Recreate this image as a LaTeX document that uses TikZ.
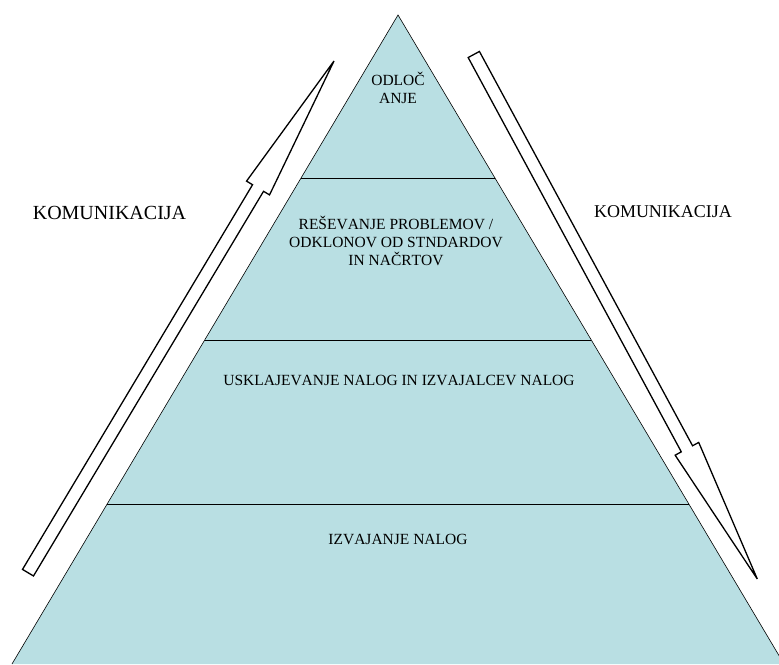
\documentclass[tikz,border=0pt]{standalone}
\usepackage{fontspec}
\setmainfont[Kerning=Off]{Liberation Serif}
\usetikzlibrary{calc}
\definecolor{piramida}{RGB}{185,223,227}
\tikzset{
  nivo/.style={font=\fontsize{15.5}{18}\selectfont, align=center},
  komlabel/.style={font=\fontsize{#1}{24}\selectfont},
  delilna/.style={line width=1pt},
  puscica/.style={draw, line width=1.3pt, fill=white, line join=miter},
}
\newcommand{\komarrow}[2]{%
  \coordinate (h) at ($(#2)!148pt!(#1)$);
  \draw[puscica] ($(#1)!6.4pt!-90:(#2)$) -- ($(h)!6.4pt!-90:(#2)$)
    -- ($(h)!13.4pt!-90:(#2)$) -- (#2) -- ($(h)!13.4pt!90:(#2)$)
    -- ($(h)!6.4pt!90:(#2)$) -- ($(#1)!6.4pt!90:(#2)$) -- cycle;
}
\begin{document}
\begin{tikzpicture}[x=1pt,y=1pt]
    \useasboundingbox (0,0) rectangle (779,664);
    \clip (0,0) rectangle (779,664);
    \coordinate (vrh) at (398,649);
    \coordinate (levo) at (12,0);
    \coordinate (desno) at (784,0);
    \fill[piramida] (vrh) -- (levo) -- (desno) -- cycle;
    \draw[line width=0.6pt] (levo) -- (vrh) -- (desno);
    \foreach \t in {0.2512,0.5008,0.755}
    \draw[delilna] ($(vrh)!\t!(levo)$) -- ($(vrh)!\t!(desno)$);
    \node[nivo] (odlocanje) at (398,576) {ODLOČ\\ANJE};
    \node[nivo] (resevanje) at (396,423) {REŠEVANJE PROBLEMOV /\\ODKLONOV OD STNDARDOV\\IN NAČRTOV};
    \node[nivo] (usklajevanje) at (399,284) {USKLAJEVANJE NALOG IN IZVAJALCEV NALOG};
    \node[nivo] (izvajanje) at (398,125) {IZVAJANJE NALOG};
    \coordinate (gorrep) at (28,91.3);
    \coordinate (gorkonica) at (334,603);
    \coordinate (dolrep) at (473.8,609.5);
    \coordinate (dolkonica) at (757.3,85);
    \komarrow{gorrep}{gorkonica}
    \komarrow{dolrep}{dolkonica}
    \node[komlabel=20] (komlevo) at (109.5,451) {KOMUNIKACIJA};
    \node[komlabel=18] (komdesno) at (663,452) {KOMUNIKACIJA};
\end{tikzpicture}
\end{document}
